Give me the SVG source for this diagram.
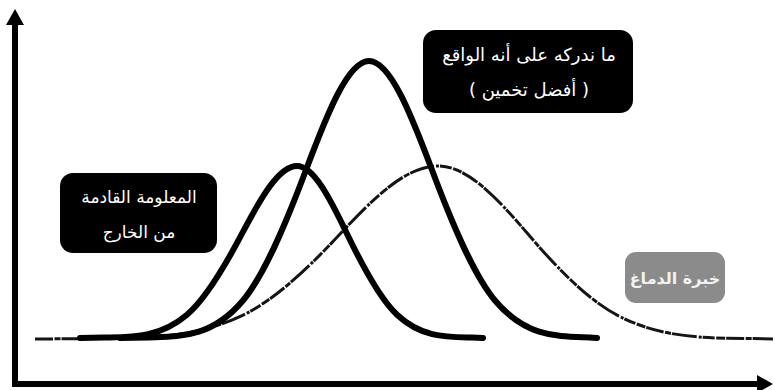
<svg xmlns="http://www.w3.org/2000/svg" width="775" height="390" viewBox="0 0 775 390">
  <style>
    .axis { stroke: #000; stroke-width: 6; fill: none; }
    .thick { stroke: #000; stroke-width: 6; fill: none; stroke-linecap: round; stroke-linejoin: round; }
    .noisy { stroke: #151515; stroke-width: 3; fill: none; stroke-dasharray: 18 1.5 6 1 25 2 3 1 12 1.5 9 1; stroke-linejoin: round; }
    .box { fill: #000; }
    .graybox { fill: #8b8b8b; }
    .lbl { font-family: "DejaVu Sans", "Noto Sans", sans-serif; fill: #fff; text-anchor: middle; }
    .glbl { font-family: "DejaVu Sans", "Noto Sans", sans-serif; font-size: 16px; font-weight: bold; fill: #f2f2f2; text-anchor: middle; }
  </style>
  <defs>
    <marker id="arrow" viewBox="0 0 16 18" refX="1" refY="9" markerWidth="16" markerHeight="18" markerUnits="userSpaceOnUse" orient="auto">
      <path d="M0,0 L16,9 L0,18 Z" fill="#000"/>
    </marker>
  </defs>

  <g id="axes">
    <line class="axis" x1="15" y1="387" x2="15" y2="24" marker-end="url(#arrow)"/>
    <line class="axis" x1="12" y1="384" x2="758" y2="384" marker-end="url(#arrow)"/>
  </g>

  <g id="connectors">
    <path id="curve-brain" class="noisy" d="M35,339 L95,338.6 C144,338 193,339 242,315.6 C274.7,300 307.3,269.1 340,234.1 C372.7,199.1 405.3,166 438,166 C468,166 498,199.1 528,234.1 C558,269.1 588,300 618,315.6 C663,339 708,338 753,338.6 L773,339"/>
    <path id="curve-input" class="thick" d="M80,338 L104.5,337.6 C132,337 159.5,338 187,314.7 C205.3,299.2 223.7,268.5 242,233.7 C260.3,198.9 278.7,166 297,166 C313.7,166 330.3,198.9 347,233.7 C363.7,268.5 380.3,299.2 397,314.7 C422,338 447,337 472,337.6 L483,338"/>
    <path id="curve-perceived" class="thick" d="M120,338 L148.5,337.4 C180,336.3 211.5,338 243,300.5 C264,275.5 285,226 306,170 C327,114 348,61 369,61 C390,61 411,114 432,170 C453,226 474,275.5 495,300.5 C526.5,338 558,336.3 589.5,337.4 L597,338"/>
  </g>

  <g id="node-perceived">
    <rect class="box" x="423" y="30" width="210" height="83" rx="13"/>
    <text class="lbl" x="529" y="61" font-size="18">ما ندركه على أنه الواقع</text>
    <text class="lbl" x="529" y="96" font-size="18">( أفضل تخمين )</text>
  </g>

  <g id="node-input">
    <rect class="box" x="60" y="173" width="157" height="80" rx="13"/>
    <text class="lbl" x="139" y="203" font-size="17">المعلومة القادمة</text>
    <text class="lbl" x="139" y="238" font-size="17">من الخارج</text>
  </g>

  <g id="node-brain">
    <rect class="graybox" x="625" y="252" width="100" height="51" rx="11"/>
    <text class="glbl" x="675" y="284">خبرة الدماغ</text>
  </g>
</svg>
